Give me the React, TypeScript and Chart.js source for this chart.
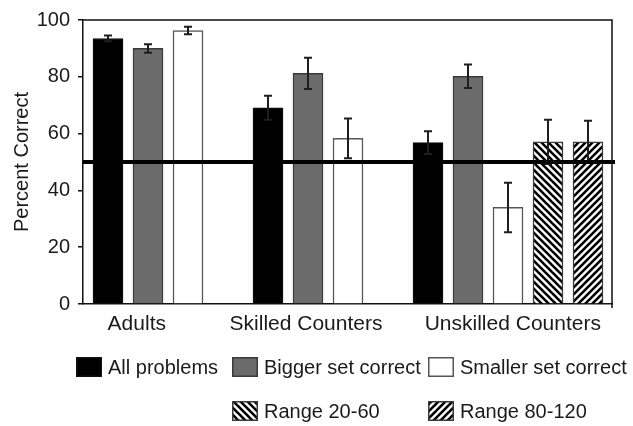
import { useEffect, useRef } from 'react';
import { Chart, registerables } from 'chart.js';

Chart.register(...registerables);

// Groups along the x axis
const groups = ['Adults', 'Skilled Counters', 'Unskilled Counters'];

// Series names (legend order)
const seriesNames = ['All problems', 'Bigger set correct', 'Smaller set correct', 'Range 20-60', 'Range 80-120'];

// Percent correct per group, with standard-error half-widths
const allProblems = [93.5, 69.1, 56.8];
const allProblemsErr = [1.0, 4.2, 4.0];
const biggerSet = [90.0, 81.2, 80.2];
const biggerSetErr = [1.5, 5.5, 4.1];
const smallerSet = [96.3, 58.3, 34.0];
const smallerSetErr = [1.3, 7.0, 8.7];
const range20to60: (number | null)[] = [null, null, 57.1];
const range20to60Err: (number | null)[] = [null, null, 7.8];
const range80to120: (number | null)[] = [null, null, 57.1];
const range80to120Err: (number | null)[] = [null, null, 7.4];

// Chance performance
const chanceLevel = 50;

// Y axis ticks
const yTicks = [0, 20, 40, 60, 80, 100];

const seriesValues = [allProblems, biggerSet, smallerSet, range20to60, range80to120];
const seriesErrors = [allProblemsErr, biggerSetErr, smallerSetErr, range20to60Err, range80to120Err];

const FONT = "'Liberation Sans', Arial, Helvetica, sans-serif";

function makeHatch(direction: 'back' | 'forward'): CanvasPattern | string {
  const size = 7;
  const tile = document.createElement('canvas');
  tile.width = size;
  tile.height = size;
  const c = tile.getContext('2d');
  if (!c) return '#888';
  c.fillStyle = '#fff';
  c.fillRect(0, 0, size, size);
  c.strokeStyle = '#000';
  c.lineWidth = 2.6;
  c.lineCap = 'square';
  for (const k of [-size, 0, size]) {
    c.beginPath();
    if (direction === 'back') {
      c.moveTo(k, 0);
      c.lineTo(k + size, size);
    } else {
      c.moveTo(k, size);
      c.lineTo(k + size, 0);
    }
    c.stroke();
  }
  const p = c.createPattern(tile, 'repeat');
  return p || '#888';
}

export default function App() {
  const canvasRef = useRef<HTMLCanvasElement | null>(null);

  useEffect(() => {
    document.body.style.margin = '0';
    const canvas = canvasRef.current;
    if (!canvas) return;

    const hatchBack = makeHatch('back');
    const hatchForward = makeHatch('forward');

    const fills: (string | CanvasPattern)[] = ['#000000', '#6b6b6b', '#ffffff', hatchBack, hatchForward];
    const borders = ['#111111', '#3a3a3a', '#555555', '#3a3a3a', '#3a3a3a'];
    const borderWidths = [1, 1.5, 1.5, 1.5, 1.5];

    // Assign consecutive slots to each bar, leaving one empty slot between groups
    const slots: (number | null)[][] = seriesValues.map(() => groups.map(() => null));
    const groupCenters: number[] = [];
    let slot = 0;
    groups.forEach((_, g) => {
      const first = slot;
      seriesValues.forEach((vals, s) => {
        if (vals[g] !== null && vals[g] !== undefined) {
          slots[s][g] = slot;
          slot += 1;
        }
      });
      groupCenters.push((first + slot - 1) / 2);
      slot += 1;
    });
    const lastSlot = slot - 2;
    // label anchors sit a little off the exact group centres
    const labelShift = [-0.28, -0.05, 0.12];
    const labelPositions = groupCenters.map((c, i) => c + labelShift[i]);

    const datasets = seriesNames.map((name, s) => ({
      label: name,
      data: groups
        .map((_, g) => ({ x: slots[s][g], y: seriesValues[s][g], err: seriesErrors[s][g] }))
        .filter((d) => d.x !== null && d.y !== null),
      backgroundColor: fills[s],
      borderColor: borders[s],
      borderWidth: borderWidths[s],
      barThickness: 30,
      grouped: false,
    }));

    const errorBars = {
      id: 'errorBars',
      afterDatasetsDraw(chart: any) {
        const ctx = chart.ctx;
        const yScale = chart.scales.y;
        ctx.save();
        ctx.strokeStyle = '#1e1e1e';
        ctx.lineWidth = 2;
        chart.data.datasets.forEach((ds: any, i: number) => {
          const meta = chart.getDatasetMeta(i);
          meta.data.forEach((bar: any, j: number) => {
            const raw = ds.data[j];
            if (!raw || raw.err == null) return;
            const x = bar.x;
            const top = yScale.getPixelForValue(raw.y + raw.err);
            const bot = yScale.getPixelForValue(raw.y - raw.err);
            ctx.beginPath();
            ctx.moveTo(x, top);
            ctx.lineTo(x, bot);
            ctx.moveTo(x - 4, top);
            ctx.lineTo(x + 4, top);
            ctx.moveTo(x - 4, bot);
            ctx.lineTo(x + 4, bot);
            ctx.stroke();
          });
        });
        ctx.restore();
      },
    };

    const chanceLine = {
      id: 'chanceLine',
      afterDatasetsDraw(chart: any) {
        const { ctx, chartArea } = chart;
        const y = chart.scales.y.getPixelForValue(chanceLevel);
        ctx.save();
        ctx.strokeStyle = '#000';
        ctx.lineWidth = 4;
        ctx.beginPath();
        ctx.moveTo(chartArea.left, y);
        ctx.lineTo(chartArea.right + 3, y);
        ctx.stroke();
        ctx.restore();
      },
    };

    const frame = {
      id: 'frame',
      afterDraw(chart: any) {
        const { ctx, chartArea } = chart;
        ctx.save();
        ctx.strokeStyle = '#111';
        ctx.lineWidth = 1.5;
        ctx.beginPath();
        ctx.moveTo(chartArea.left, chartArea.top);
        ctx.lineTo(chartArea.right, chartArea.top);
        ctx.lineTo(chartArea.right, chartArea.bottom + 4);
        ctx.stroke();
        ctx.restore();
      },
    };

    // Legend laid out as a three-column grid below the axis
    const legendColumns = [76, 232, 428];
    const legendRows = [367, 411];
    const legendCells = [
      [0, 0],
      [0, 1],
      [0, 2],
      [1, 1],
      [1, 2],
    ];
    const gridLegend = {
      id: 'gridLegend',
      afterDraw(chart: any) {
        const ctx = chart.ctx;
        ctx.save();
        ctx.font = `20px ${FONT}`;
        ctx.textBaseline = 'middle';
        ctx.textAlign = 'left';
        seriesNames.forEach((name, s) => {
          const [r, c] = legendCells[s];
          const x = legendColumns[c];
          const yc = legendRows[r];
          const w = 26;
          const h = 20;
          ctx.fillStyle = fills[s];
          ctx.fillRect(x, yc - h / 2, w, h);
          ctx.strokeStyle = borders[s];
          ctx.lineWidth = 1.5;
          ctx.strokeRect(x + 0.75, yc - h / 2 + 0.75, w - 1.5, h - 1.5);
          ctx.fillStyle = '#1a1a1a';
          ctx.fillText(name, x + w + 6, yc + 1);
        });
        ctx.restore();
      },
    };

    const chart = new Chart(canvas, {
      type: 'bar',
      data: { datasets: datasets as any },
      options: {
        animation: false,
        responsive: false,
        maintainAspectRatio: false,
        layout: { padding: { top: 16, right: 21, bottom: 80, left: 0 } },
        plugins: {
          legend: { display: false },
          tooltip: { enabled: false },
        },
        scales: {
          x: {
            type: 'linear',
            offset: false,
            min: -0.625,
            max: lastSlot + 0.6,
            afterBuildTicks: (axis: any) => {
              axis.ticks = labelPositions.map((v) => ({ value: v }));
            },
            afterFit: (axis: any) => {
              axis.height = 42;
            },
            grid: { display: true, drawOnChartArea: false, drawTicks: false, offset: false },
            border: { display: true, color: '#111', width: 1.5 },
            ticks: {
              autoSkip: false,
              maxRotation: 0,
              padding: 8,
              color: '#1a1a1a',
              font: { family: FONT, size: 21 },
              callback: (_v: any, i: number) => groups[i],
            },
          },
          y: {
            type: 'linear',
            min: yTicks[0],
            max: yTicks[yTicks.length - 1],
            afterBuildTicks: (axis: any) => {
              axis.ticks = yTicks.map((v) => ({ value: v }));
            },
            afterFit: (axis: any) => {
              axis.width = 83;
            },
            grid: { display: true, drawOnChartArea: false, drawTicks: true, tickLength: 5, color: '#111', lineWidth: 1.5 },
            border: { display: true, color: '#111', width: 1.5 },
            ticks: {
              padding: 8,
              color: '#1a1a1a',
              font: { family: FONT, size: 20 },
            },
            title: {
              display: true,
              text: 'Percent Correct',
              color: '#1a1a1a',
              font: { family: FONT, size: 20 },
              padding: { top: 10, bottom: 0 },
            },
          },
        },
      },
      plugins: [errorBars, chanceLine, frame, gridLegend],
    });

    return () => {
      chart.destroy();
    };
  }, []);

  return (
    <div style={{ position: 'absolute', left: 0, top: 0, width: 633, height: 426, background: '#fff' }}>
      <canvas ref={canvasRef} width={633} height={426} />
    </div>
  );
}
